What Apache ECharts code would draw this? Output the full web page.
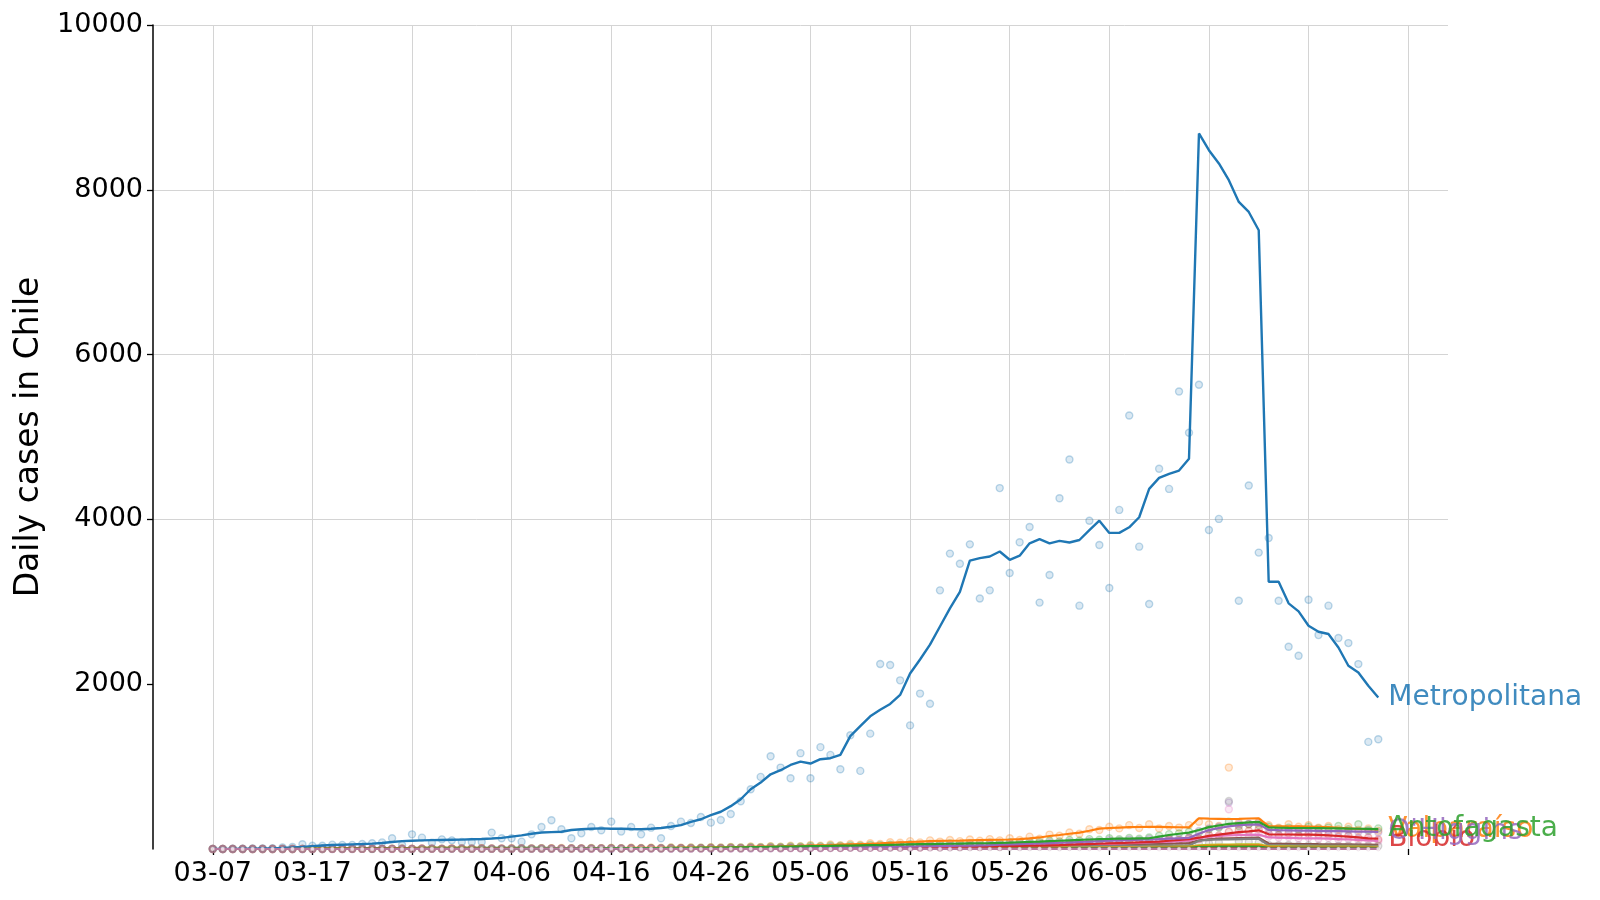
<!DOCTYPE html>
<html>
<head>
<meta charset="utf-8">
<script src="https://cdn.jsdelivr.net/npm/echarts@6/dist/echarts.min.js"></script>
<style>
html,body{margin:0;padding:0;background:#fff;}
#chart{width:1600px;height:900px;}
</style>
</head>
<body>
<div id="chart"></div>
<script>
// ---- axis categories ----
const axisStart = '2020-03-01';
const axisDays = 131;           // 03-01 .. 07-09
const dataOffset = 6;           // data begin on 03-07
const xTickLabels = ['03-07','03-17','03-27','04-06','04-16','04-26','05-06','05-16','05-26','06-05','06-15','06-25'];
const xTickUnlabeled = ['07-05'];
const yTicks = [2000,4000,6000,8000,10000];

// ---- Metropolitana ----
const metroDaily = [
  2,0,3,3,6,8,10,20,25,57,
  40,40,53,50,50,60,70,80,130,49,
  178,138,77,117,105,85,85,85,199,130,
  130,89,178,267,348,239,130,190,267,227,
  332,211,267,178,259,130,279,332,316,389,
  320,352,425,579,725,875,1126,988,859,1163,
  859,1236,1142,968,1380,948,1400,2245,2233,2047,
  1500,1886,1762,3139,3585,3461,3697,3040,3139,4380,
  3350,3722,3908,2990,3325,4256,4727,2953,3983,3690,
  3168,4115,5261,3669,2973,4614,4370,5553,5051,5634,
  3872,4006,null,3013,4411,3597,3775,3013,2454,2345,
  3025,2596,2953,2560,2499,2244,1300,1332
];
const metroAvg = [
  0,1,2,3,4,6,8,12,18,25,
  35,42,48,52,56,60,65,72,85,95,
  100,105,108,110,112,114,118,122,128,135,
  150,165,185,200,205,210,230,240,245,250,
  245,245,242,240,245,255,270,290,330,361,
  410,452,520,604,725,806,907,956,1020,1061,
  1037,1090,1102,1142,1370,1490,1610,1690,1760,1870,
  2130,2300,2480,2700,2920,3120,3500,3530,3550,3610,
  3510,3560,3710,3760,3710,3740,3720,3750,3870,3985,
  3836,3836,3904,4026,4370,4504,4553,4593,4735,8684,
  8481,8320,8117,7853,7731,7509,3244,3244,2981,2884,
  2710,2637,2609,2446,2224,2142,1981,1839
];

// ---- Valparaíso ----
const valpDaily = [
  0,0,0,0,0,0,0,1,0,2, 1,0,3,2,1,4,3,2,5,4,
  3,6,5,4,8,6,5,9,7,6, 10,7,8,11,9,12,10,8,13,11,
  14,10,15,12,16,13,18,15,20,17, 22,18,25,20,30,24,35,28,40,33,
  48,40,55,45,62,52,70,60,82,75, 95,80,105,90,110,95,115,100,120,105,
  130,110,150,125,175,160,200,185,240,230, 270,250,290,255,300,250,280,260,290,330,
  300,280,988,320,300,330,290,260,300,270, 290,260,280,240,270,230,250,220
];
const valpAvg = [
  0,0,0,0,0,0,0,0,1,1, 1,1,2,2,2,3,3,3,4,4,
  4,5,5,5,6,6,6,7,7,7, 8,8,8,9,9,10,10,10,11,11,
  12,12,13,13,14,14,15,16,17,18, 20,21,22,24,26,28,30,32,35,38,
  42,45,48,52,56,60,64,68,74,80, 85,90,95,98,100,102,105,108,110,112,
  115,120,128,140,158,170,185,199,222,247, 255,260,265,267,268,268,266,264,262,373,
  368,366,364,366,370,373,279,276,275,274, 272,270,265,258,250,245,240,235
];

// ---- Antofagasta ----
const antoDaily = [
  0,0,0,0,0,0,0,0,0,0, 1,0,2,1,2,3,1,2,4,3,
  2,4,5,3,5,6,4,6,7,5, 7,8,6,9,8,7,10,8,11,9,
  12,9,13,10,14,12,15,13,17,15, 19,16,21,18,24,21,27,25,31,29,
  36,32,40,36,44,40,48,45,52,50, 58,52,62,58,66,62,70,66,76,72,
  82,76,90,84,100,92,110,102,120,112, 130,118,135,125,140,160,180,190,210,200,
  240,260,330,280,300,290,270,250,260,240, 270,250,260,280,240,300,230,250
];
const antoAvg = [
  0,0,0,0,0,0,0,0,0,0, 1,1,1,1,2,2,2,2,3,3,
  3,3,4,4,4,5,5,5,6,6, 6,7,7,7,8,8,8,9,9,9,
  10,10,11,11,12,12,13,14,15,16, 17,18,19,20,22,24,26,28,30,32,
  34,36,38,40,42,44,46,48,50,52, 55,58,60,62,64,66,68,70,72,75,
  78,82,86,90,95,100,105,110,115,120, 122,125,126,128,130,150,170,185,199,230,
  265,285,305,315,322,330,262,258,256,255, 255,254,252,250,248,246,244,242
];

// ---- Biobío ----
const bioDaily = [
  0,0,0,0,0,0,0,0,0,1, 0,2,1,0,2,1,3,2,1,3,
  2,4,3,2,5,3,4,6,3,5, 4,6,5,4,7,5,6,8,5,7,
  8,6,9,7,10,8,9,11,8,10, 12,9,13,10,14,11,15,12,16,13,
  17,14,18,15,20,17,21,19,24,21, 26,22,28,24,30,26,32,28,36,31,
  40,35,44,39,50,44,58,52,66,60, 74,68,82,76,92,88,115,108,135,125,
  170,165,210,230,220,240,185,170,190,165, 185,170,175,150,160,135,140,115
];
const bioAvg = [
  0,0,0,0,0,0,0,0,0,0, 0,1,1,1,1,1,2,2,2,2,
  2,3,3,3,3,3,4,4,4,4, 4,5,5,5,5,5,6,6,6,6,
  7,7,7,7,8,8,8,9,9,9, 10,10,11,11,12,12,13,13,14,14,
  15,15,16,16,17,18,19,20,21,22, 23,24,25,26,27,28,29,30,32,34,
  36,38,40,42,45,48,52,56,60,64, 68,72,76,80,85,90,100,110,120,137,
  160,175,190,205,215,227,178,176,176,175, 175,172,165,158,150,140,130,125
];

// ---- O'Higgins ----
const ohiDaily = [
  0,0,0,0,0,0,0,0,0,0, 0,0,1,0,1,2,1,0,2,1,
  1,2,3,1,2,3,2,1,3,4, 2,3,4,3,2,4,5,3,4,5,
  3,5,6,4,5,6,4,6,5,7, 6,5,8,7,10,9,12,11,14,13,
  17,15,19,17,21,19,25,22,28,26, 33,30,36,34,40,38,45,42,52,48,
  60,55,68,64,76,72,86,80,95,90, 108,100,115,108,122,118,132,126,140,220,
  250,270,563,300,310,320,240,230,235,220, 230,215,225,210,220,205,215,200
];
const ohiAvg = [
  0,0,0,0,0,0,0,0,0,0, 0,0,0,0,1,1,1,1,1,1,
  1,1,2,2,2,2,2,2,2,3, 3,3,3,3,3,3,4,4,4,4,
  4,4,4,5,5,5,5,5,5,5, 5,6,7,8,9,10,11,12,13,14,
  15,16,17,18,19,20,22,24,26,28, 30,32,34,36,38,40,42,45,48,52,
  56,60,64,68,72,76,80,85,90,95, 100,104,108,112,116,120,125,130,135,185,
  230,255,275,290,295,300,232,228,226,224, 222,220,218,216,214,212,210,208
];

// ---- Maule ----
const mauleAvg = [
  0,0,0,0,0,0,0,0,0,0, 0,0,1,1,1,1,1,2,2,2,
  2,2,3,3,3,3,3,4,4,4, 4,4,5,5,5,5,5,5,6,6,
  6,6,6,7,7,7,7,8,8,8, 8,9,9,9,10,10,10,11,11,12,
  12,13,13,14,14,15,16,17,18,19, 20,21,22,23,24,25,26,27,28,29,
  30,32,34,36,38,40,42,44,46,48, 50,52,55,58,60,62,65,68,72,105,
  118,125,130,133,135,137,66,64,62,60, 60,58,57,56,55,54,52,50
];

// ---- Tarapacá ----
const taraDaily = [
  0,0,0,0,0,0,0,0,0,0, 0,0,0,1,0,1,2,1,0,2,
  1,3,2,1,2,3,2,4,3,2, 3,4,2,5,3,4,5,3,4,6,
  4,5,6,4,5,7,5,6,7,5, 6,7,6,8,7,8,9,7,10,8,
  11,9,12,11,14,13,16,14,18,17, 19,18,22,20,25,23,29,26,33,30,
  37,34,41,38,45,42,49,46,54,50, 62,58,72,68,82,78,92,88,110,120,
  140,150,482,180,170,190,150,140,145,130, 140,125,135,115,120,105,110,95
];
const taraAvg = [
  0,0,0,0,0,0,0,0,0,0, 0,0,0,1,1,1,1,1,1,2,
  2,2,2,2,2,3,3,3,3,3, 3,3,3,4,4,4,4,4,4,4,
  4,5,5,5,5,5,5,5,6,6, 6,6,7,7,7,8,8,8,9,9,
  10,10,11,12,13,14,15,16,17,18, 19,20,21,22,24,26,28,30,32,34,
  36,38,40,42,44,46,48,50,52,55, 60,65,70,75,80,85,90,95,100,130,
  150,160,165,170,172,174,140,138,135,132, 130,128,125,120,115,110,104,97
];

// ---- Coquimbo ----
const coqDaily = [
  0,0,0,0,0,0,0,0,0,0, 0,0,0,0,0,1,0,1,2,1,
  1,0,2,1,2,1,3,2,1,2, 3,2,3,4,2,3,4,3,5,4,
  3,5,4,6,5,4,6,5,7,6, 7,6,8,7,9,8,10,9,11,10,
  12,11,13,12,14,13,15,14,16,15, 18,17,20,19,22,21,24,23,26,25,
  28,27,30,29,32,31,34,33,36,35, 38,37,40,39,42,40,44,42,45,60,
  70,80,583,90,85,80,50,45,48,42, 46,40,44,40,42,38,40,36
];
const coqAvg = [
  0,0,0,0,0,0,0,0,0,0, 0,0,0,0,0,1,1,1,1,1,
  1,1,1,2,2,2,2,2,2,2, 3,3,3,3,3,3,4,4,4,4,
  4,4,5,5,5,5,5,6,6,6, 6,7,7,7,8,8,8,9,9,10,
  10,11,11,12,12,13,13,14,14,15, 16,17,18,19,20,21,22,23,24,25,
  26,27,28,29,30,31,32,33,34,35, 36,37,38,39,40,40,41,42,43,100,
  110,115,118,120,122,124,45,44,44,43, 43,42,42,41,40,40,39,38
];

// ---- Atacama ----
const ataAvg = [
  0,0,0,0,0,0,0,0,0,0, 0,0,0,0,0,0,0,0,1,1,
  1,1,1,1,1,1,1,1,1,1, 1,1,1,1,2,2,2,2,2,2,
  2,2,2,2,2,3,3,3,3,3, 3,3,3,4,4,4,4,4,5,5,
  5,5,6,6,6,7,7,7,8,8, 8,9,9,10,10,11,11,12,12,13,
  13,14,14,15,15,16,17,18,19,20, 21,22,23,24,25,26,27,28,29,45,
  50,52,54,55,56,57,32,31,31,30, 30,30,29,29,28,28,27,27
];

// ---- Arica ----
const ariAvg = [
  0,0,0,0,0,0,0,0,0,0, 0,0,0,0,0,0,0,1,1,1,
  1,1,1,1,1,1,1,1,1,1, 2,2,2,2,2,2,2,2,2,2,
  2,2,2,2,3,3,3,3,3,3, 3,3,3,3,3,3,4,4,4,4,
  4,4,4,5,5,5,5,5,6,6, 6,6,7,7,7,8,8,8,9,9,
  9,10,10,11,11,12,12,13,13,14, 14,15,15,16,16,17,17,18,18,30,
  34,35,36,37,37,38,20,20,19,19, 19,18,18,18,17,17,17,16
];

// ---- Los Lagos ----
const lagAvg = [
  0,0,0,0,0,0,0,0,0,0, 0,1,1,1,1,2,2,2,2,3,
  3,3,3,4,4,4,4,5,5,5, 5,5,6,6,6,6,6,6,6,6,
  6,6,6,6,6,6,6,6,6,6, 6,6,6,6,6,6,6,6,6,6,
  6,6,6,6,6,6,6,6,6,7, 7,7,7,7,7,7,8,8,8,8,
  8,8,9,9,9,9,10,10,10,10, 10,10,11,11,11,11,12,12,12,20,
  22,23,23,24,24,25,13,13,13,13, 13,12,12,12,12,12,11,11
];

// ---- Ñuble ----
const nubAvg = [
  0,0,0,0,0,0,0,1,1,2, 3,4,5,6,7,8,9,10,11,12,
  12,13,13,13,13,13,13,12,12,12, 11,11,11,10,10,10,9,9,9,8,
  8,8,8,7,7,7,7,7,7,7, 7,7,7,7,7,7,7,7,7,7,
  7,7,7,7,8,8,8,8,8,8, 9,9,9,9,10,10,10,11,11,11,
  12,12,12,13,13,14,14,15,15,16, 16,17,17,18,18,19,19,20,20,35,
  38,40,41,42,43,44,22,22,21,21, 21,20,20,20,19,19,19,18
];

// ---- Araucanía ----
const arauAvg = [
  0,0,0,0,0,0,0,0,1,1, 2,3,4,5,6,7,8,9,10,11,
  12,13,14,14,15,15,15,15,15,15, 14,14,13,13,12,12,11,11,10,10,
  9,9,9,8,8,8,7,7,7,7, 7,6,6,6,6,6,6,6,6,6,
  6,6,6,6,6,6,6,6,6,6, 6,6,7,7,7,7,7,8,8,8,
  8,8,9,9,9,9,10,10,10,11, 11,11,12,12,12,13,13,13,14,25,
  27,28,29,29,30,30,15,15,15,14, 14,14,14,13,13,13,13,12
];

// ---- Los Ríos ----
const riosAvg = [
  0,0,0,0,0,0,0,0,0,0, 0,0,0,0,1,1,1,1,1,1,
  1,1,1,2,2,2,2,2,2,2, 2,2,2,2,2,2,2,2,2,2,
  2,2,2,2,2,2,2,2,2,2, 2,2,2,2,2,2,2,2,2,2,
  2,2,2,2,2,2,2,2,2,2, 2,2,2,2,2,2,2,2,2,2,
  2,2,2,2,2,2,3,3,3,3, 3,3,3,3,3,3,3,3,3,5,
  5,5,5,6,6,6,3,3,3,3, 3,3,3,3,3,3,3,3
];

// ---- Magallanes ----
const magDaily = [
  0,0,0,0,0,0,0,0,0,0, 0,0,0,0,0,0,0,0,1,0,
  1,0,2,1,3,2,4,1,3,5, 2,4,3,6,2,5,3,4,2,6,
  3,2,4,1,3,2,1,3,2,1, 2,1,3,1,2,0,1,2,1,0,
  1,2,0,1,2,1,0,1,2,1, 0,2,1,1,0,2,1,0,1,2,
  1,0,1,2,1,0,2,1,1,0, 2,1,0,1,2,1,0,1,2,3,
  1,2,4,1,0,2,1,2,0,1, 2,1,0,1,2,1,0,1
];
const magAvg = [
  0,0,0,0,0,0,0,0,0,0, 0,0,0,0,0,0,0,0,0,0,
  0,1,1,1,1,2,2,2,3,3, 3,3,4,4,4,4,4,4,3,3,
  3,3,2,2,2,2,2,2,2,1, 1,1,1,1,1,1,1,1,1,1,
  1,1,1,1,1,1,1,1,1,1, 1,1,1,1,1,1,1,1,1,1,
  1,1,1,1,1,1,1,1,1,1, 1,1,1,1,1,1,1,1,1,2,
  2,2,2,2,2,2,1,1,1,1, 1,1,1,1,1,1,1,1
];

// ---- Aysén ----
const aysAvg = [
  0,0,0,0,0,0,0,0,0,0, 0,0,0,0,0,0,0,0,0,0,
  0,0,0,0,0,0,0,0,0,0, 0,0,0,0,0,0,0,0,0,0,
  0,0,0,0,0,0,0,0,0,0, 0,0,0,0,0,0,0,0,0,0,
  0,0,0,0,0,0,0,0,0,0, 0,0,0,0,0,0,0,0,0,0,
  0,0,0,0,0,0,0,0,0,0, 0,0,0,0,0,0,0,0,0,0,
  0,0,0,0,0,0,0,0,0,0, 0,0,0,0,0,0,0,0
];

// ---- regions, drawing order ----
const regions = [
  {name:'Metropolitana', color:'#1f77b4', avg:metroAvg, daily:metroDaily, label:true, z:5},
  {name:'Valparaíso',    color:'#ff7f0e', avg:valpAvg,  daily:valpDaily,  label:true, z:6},
  {name:'Antofagasta',   color:'#2ca02c', avg:antoAvg,  daily:antoDaily,  label:true, z:10},
  {name:'Biobío',        color:'#d62728', avg:bioAvg,   daily:bioDaily,   label:true, z:7},
  {name:"O'Higgins",     color:'#9467bd', avg:ohiAvg,   daily:ohiDaily,   label:true, z:8},
  {name:'Maule',         color:'#8c564b', avg:mauleAvg, daily:null,       label:false, z:4},
  {name:'Tarapacá',      color:'#e377c2', avg:taraAvg,  daily:taraDaily,  label:false, z:4},
  {name:'Coquimbo',      color:'#7f7f7f', avg:coqAvg,   daily:coqDaily,   label:false, z:4},
  {name:'Atacama',       color:'#bcbd22', avg:ataAvg,   daily:null,       label:false, z:4},
  {name:'Arica',         color:'#17becf', avg:ariAvg,   daily:null,       label:false, z:4},
  {name:'Los Lagos',     color:'#1f77b4', avg:lagAvg,   daily:null,       label:false, z:4},
  {name:'Ñuble',         color:'#ff7f0e', avg:nubAvg,   daily:null,       label:false, z:4},
  {name:'Araucanía',     color:'#2ca02c', avg:arauAvg,  daily:null,       label:false, z:4},
  {name:'Los Ríos',      color:'#d62728', avg:riosAvg,  daily:null,       label:false, z:4},
  {name:'Aysén',         color:'#9467bd', avg:aysAvg,   daily:null,       label:false, z:4},
  {name:'Magallanes',    color:'#b7789d', avg:magAvg,   daily:magDaily,   label:false, z:11, top:true}
];

// ---- build ----
function rgba(hex, a){
  const n = parseInt(hex.slice(1),16);
  return 'rgba('+((n>>16)&255)+','+((n>>8)&255)+','+(n&255)+','+a+')';
}
function pad(arr){ return new Array(dataOffset).fill(null).concat(arr); }
const categories = [];
{
  const d0 = new Date(axisStart+'T00:00:00Z');
  for (let i=0;i<axisDays;i++){
    const d = new Date(d0.getTime()+i*86400000);
    categories.push(String(d.getUTCMonth()+1).padStart(2,'0')+'-'+String(d.getUTCDate()).padStart(2,'0'));
  }
}
const labelSet = new Set(xTickLabels);
const tickSet = new Set(xTickLabels.concat(xTickUnlabeled));
const FONT = 'DejaVu Sans';

const series = [];
regions.forEach(r=>{
  if (r.daily){
    series.push({
      type:'scatter', name:r.name+' daily', data:pad(r.daily), symbol:'circle',
      symbolSize: r.top ? 4 : 7,
      itemStyle: r.top
        ? {color:'rgba(255,255,255,0.9)', borderColor:rgba(r.color,0.3), borderWidth:0.8}
        : {color:rgba(r.color,0.2), borderColor:rgba(r.color,0.36), borderWidth:1.4},
      z: r.top ? 12 : 2, silent:true, animation:false
    });
  }
});
regions.forEach(r=>{
  series.push({
    type:'line', name:r.name, data:pad(r.avg), showSymbol:false, symbol:'none',
    lineStyle:{color:r.color, width: r.name==='Metropolitana' ? 2.4 : 2.2}, itemStyle:{color:r.color},
    z:r.z, animation:false, silent:true,
    endLabel: r.label ? {show:true, formatter:r.name, color:rgba(r.color,0.85), fontSize:28, fontFamily:FONT, distance:10} : {show:false}
  });
});

const chart = echarts.init(document.getElementById('chart'), null, {renderer:'canvas'});
chart.setOption({
  backgroundColor:'#ffffff',
  animation:false,
  grid:{left:153, right:152, top:25, bottom:51, containLabel:false},
  xAxis:{
    type:'category', data:categories, boundaryGap:false,
    axisLine:{show:false},
    axisTick:{show:true, length:6, interval:(i,v)=>tickSet.has(v), lineStyle:{color:'#000', width:1.3}},
    axisLabel:{interval:(i,v)=>tickSet.has(v), formatter:v=>labelSet.has(v)?v:'', color:'#000', fontSize:27, fontFamily:FONT, margin:11},
    splitLine:{show:true, interval:(i,v)=>tickSet.has(v), lineStyle:{color:'#d4d4d4', width:1}}
  },
  yAxis:{
    type:'value', min:0, max:10000, interval:2000,
    name:'Daily cases in Chile', nameLocation:'middle', nameGap:101,
    nameTextStyle:{fontSize:33, fontFamily:FONT, color:'#000'},
    axisLine:{show:true, lineStyle:{color:'#000', width:1.5}},
    axisTick:{show:true, length:6, customValues:yTicks, lineStyle:{color:'#000', width:1.3}},
    axisLabel:{customValues:yTicks, formatter:v=>String(v), color:'#000', fontSize:27, fontFamily:FONT, margin:10},
    splitLine:{show:true, showMinLine:false, lineStyle:{color:'#d4d4d4', width:1}}
  },
  series:series
});
</script>
</body>
</html>
